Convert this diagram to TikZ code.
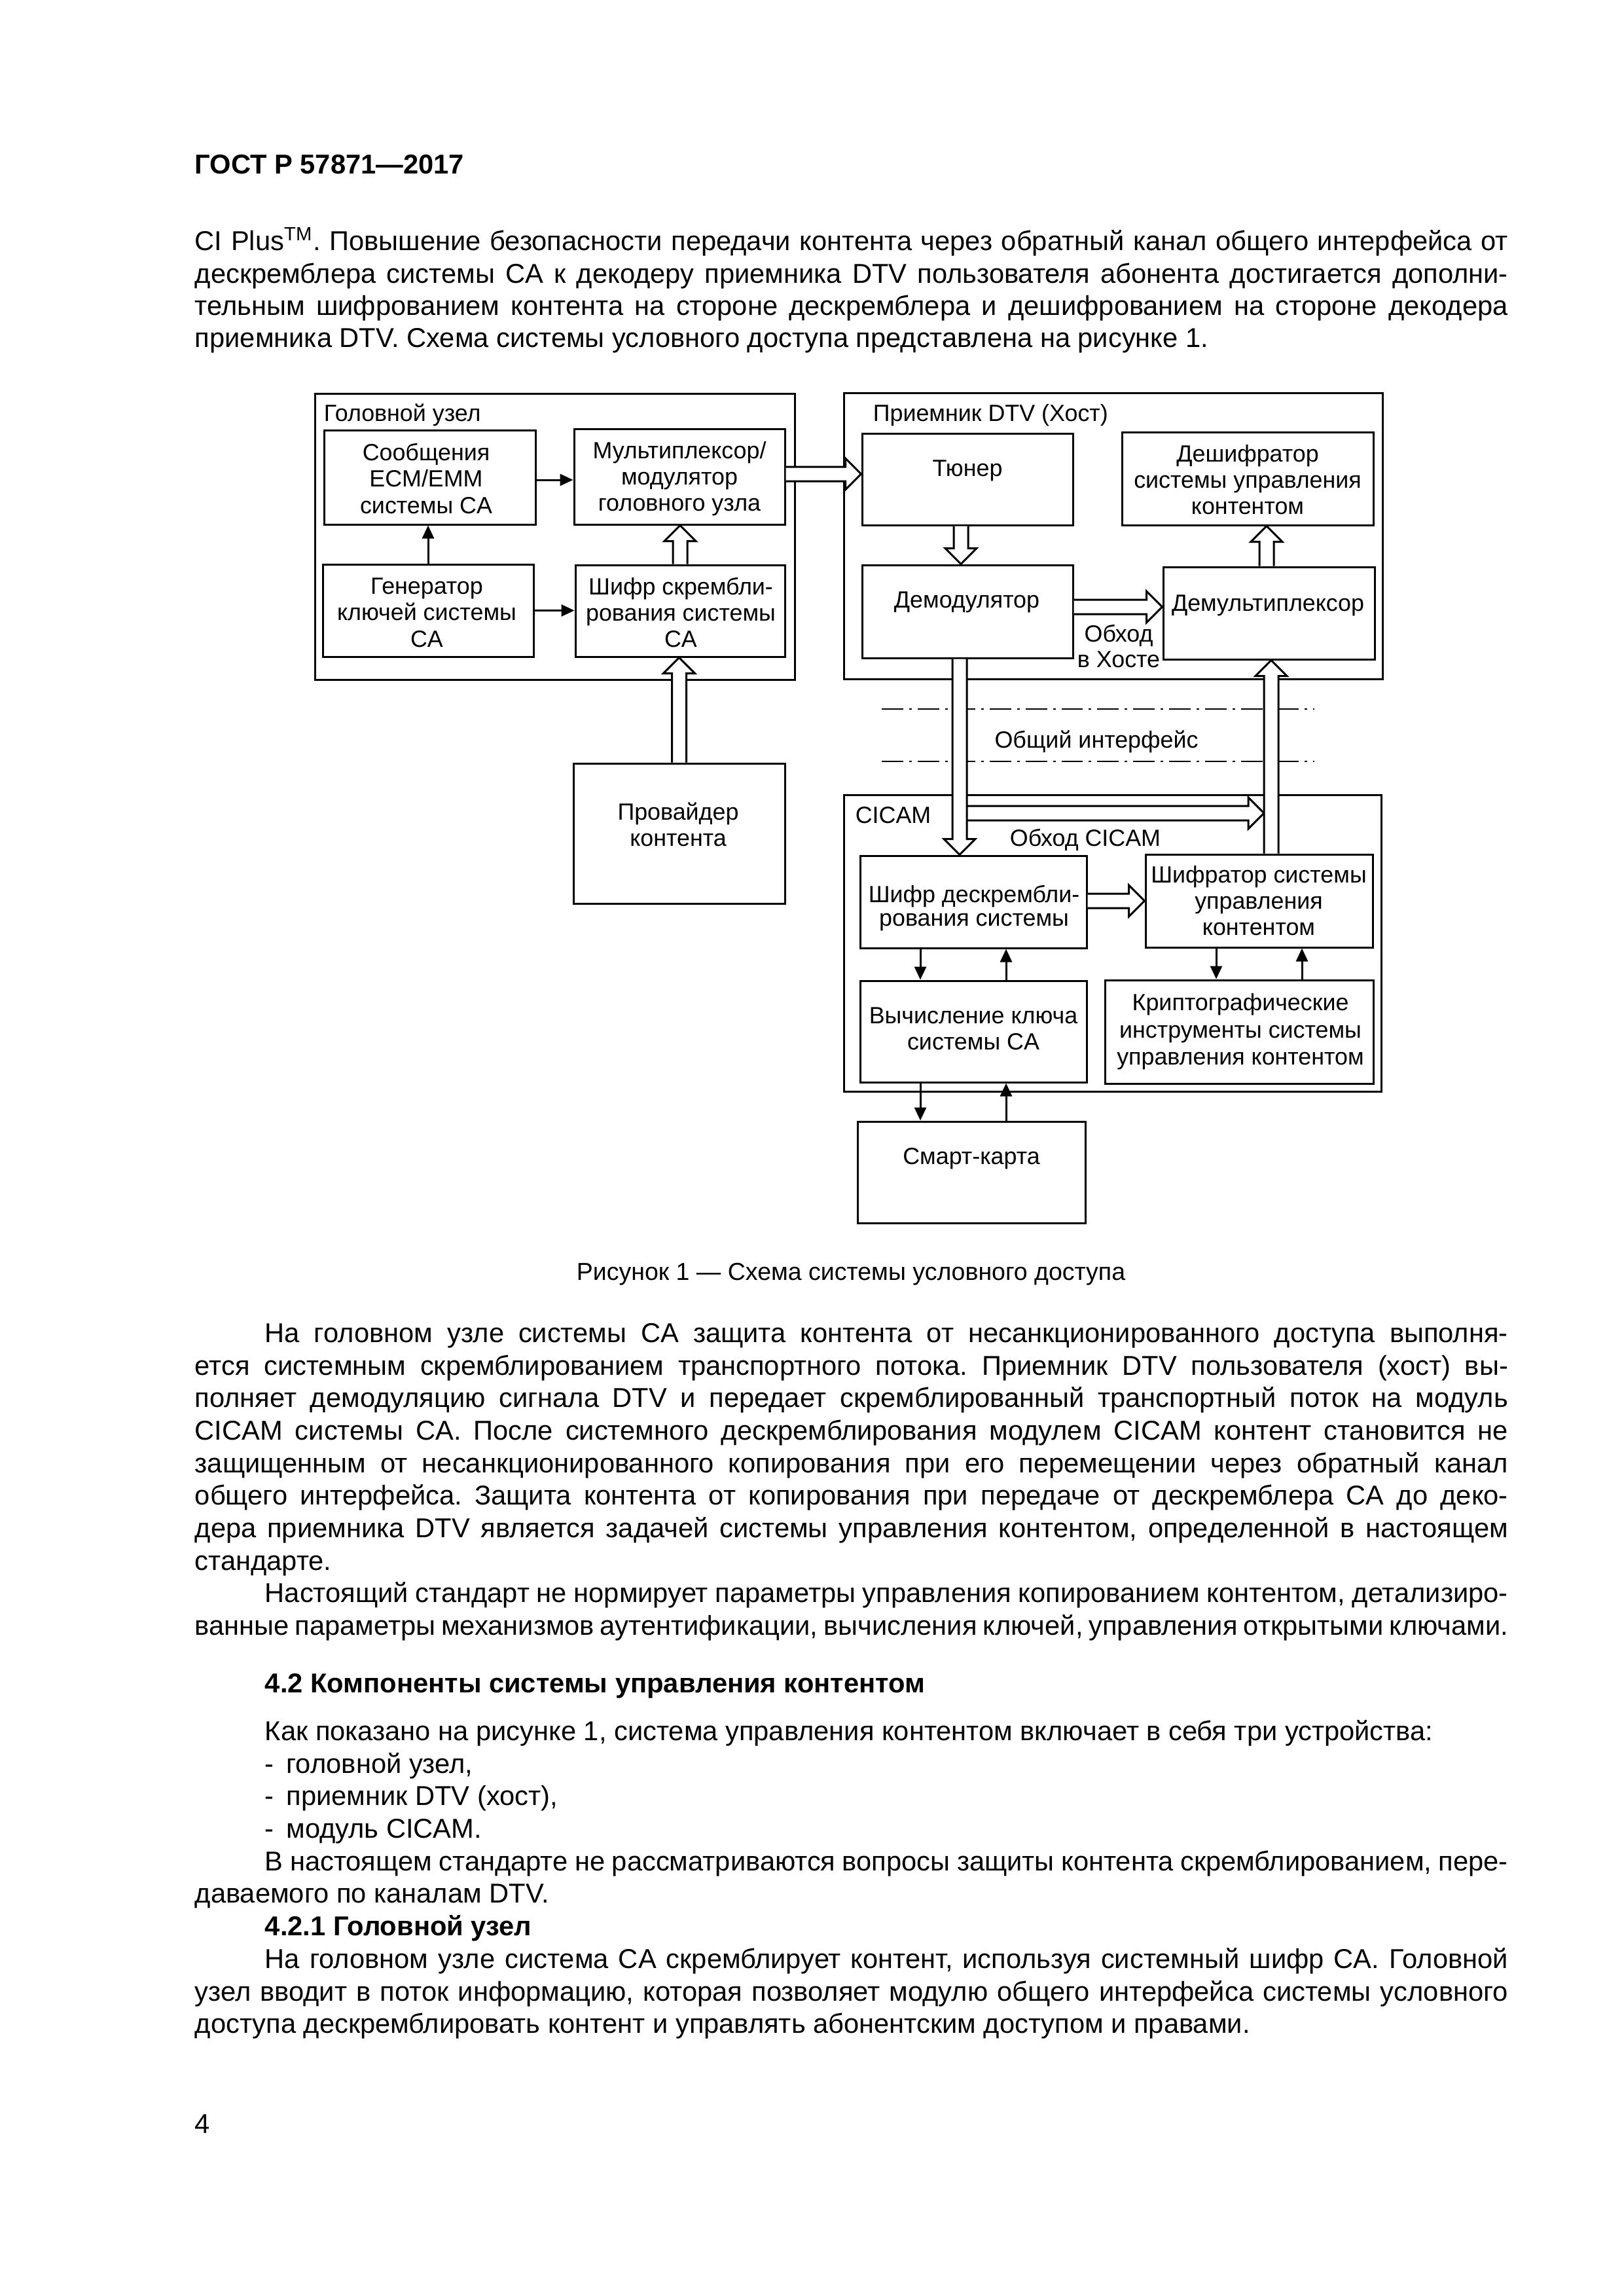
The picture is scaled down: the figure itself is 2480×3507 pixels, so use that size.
\documentclass[tikz,border=0pt]{standalone}
\usepackage{fontspec}
\setmainfont{Liberation Sans}
\usetikzlibrary{calc,arrows.meta,fit}
\frenchspacing
\newdimen\pxunit \pxunit=0.24003pt
\def\hsw{11}\def\hhw{24}\def\hl{24}
% vertical hollow arrow: #1 start, #2 tip, #3 = 1 (up) or -1 (down)
\newcommand\hvarrow[3]{\draw[harrow] ($(#1)+(-\hsw,0)$) -- ($(#2)+(-\hsw,#3*\hl)$) -- ($(#2)+(-\hhw,#3*\hl)$) -- (#2) -- ($(#2)+(\hhw,#3*\hl)$) -- ($(#2)+(\hsw,#3*\hl)$) -- ($(#1)+(\hsw,0)$);}
% horizontal hollow arrow to the right: #1 start, #2 tip
\newcommand\hharrow[2]{\draw[harrow] ($(#1)+(0,-\hsw)$) -- ($(#2)+(-\hl,-\hsw)$) -- ($(#2)+(-\hl,-\hhw)$) -- (#2) -- ($(#2)+(-\hl,\hhw)$) -- ($(#2)+(-\hl,\hsw)$) -- ($(#1)+(0,\hsw)$);}
\begin{document}
\frenchspacing
\begin{tikzpicture}[x=0.24003pt,y=-0.24003pt,
  box/.style={draw, line width=0.72pt, rectangle, inner sep=0pt},
  harrow/.style={draw, fill=white, line width=0.72pt, line join=miter},
  sarrow/.style={line width=0.72pt, -{Triangle[length=4.8pt,width=4.3pt]}},
  ddl/.style={line width=0.65pt, dash pattern=on 7.9pt off 2.16pt on 0.96pt off 2.16pt},
  dt/.style={font=\fontsize{8.6}{10}\selectfont, inner sep=0pt, anchor=base},
  dtl/.style={font=\fontsize{8.6}{10}\selectfont, inner sep=0pt, anchor=base west},
  bt/.style={font=\fontsize{10}{12}\selectfont, inner sep=0pt, anchor=base west}]
\useasboundingbox (0,0) rectangle (2480,3507);
\fill[white] (0,0) rectangle (2480,3507);

% ---------- page text ----------
\node[bt, font=\bfseries\fontsize{10}{12}\selectfont] (hdr) at (297,265) {ГОСТ Р 57871—2017};

\node[bt] (pa1) at (297,383) {\makebox[2006\pxunit][s]{CI Plus\textsuperscript{TM}. Повышение безопасности передачи контента через обратный канал общего интерфейса от}};
\node[bt] (pa2) at (297,432) {\makebox[2006\pxunit][s]{дескремблера системы CA к декодеру приемника DTV пользователя абонента достигается дополни-}};
\node[bt] (pa3) at (297,481) {\makebox[2006\pxunit][s]{тельным шифрованием контента на стороне дескремблера и дешифрованием на стороне декодера}};
\node[bt] (pa4) at (297,530) {приемника DTV. Схема системы условного доступа представлена на рисунке 1.};

\node[font=\fontsize{9}{11}\selectfont, inner sep=0pt, anchor=base] (cap) at (1300,1955) {Рисунок 1 — Схема системы условного доступа};

\node[bt] (pb1) at (404,2050) {\makebox[1899\pxunit][s]{На головном узле системы CA защита контента от несанкционированного доступа выполня-}};
\node[bt] (pb2) at (297,2100) {\makebox[2006\pxunit][s]{ется системным скремблированием транспортного потока. Приемник DTV пользователя (хост) вы-}};
\node[bt] (pb3) at (297,2149) {\makebox[2006\pxunit][s]{полняет демодуляцию сигнала DTV и передает скремблированный транспортный поток на модуль}};
\node[bt] (pb4) at (297,2199) {\makebox[2006\pxunit][s]{CICAM системы CA. После системного дескремблирования модулем CICAM контент становится не}};
\node[bt] (pb5) at (297,2249) {\makebox[2006\pxunit][s]{защищенным от несанкционированного копирования при его перемещении через обратный канал}};
\node[bt] (pb6) at (297,2298) {\makebox[2006\pxunit][s]{общего интерфейса. Защита контента от копирования при передаче от дескремблера CA до деко-}};
\node[bt] (pb7) at (297,2348) {\makebox[2006\pxunit][s]{дера приемника DTV является задачей системы управления контентом, определенной в настоящем}};
\node[bt] (pb8) at (297,2398) {стандарте.};

\node[bt] (pc1) at (404,2447) {\makebox[1899\pxunit][s]{Настоящий стандарт не нормирует параметры управления копированием контентом, детализиро-}};
\node[bt] (pc2) at (297,2497) {\makebox[2006\pxunit][s]{ванные параметры механизмов аутентификации, вычисления ключей, управления открытыми ключами.}};

\node[bt, font=\bfseries\fontsize{10}{12}\selectfont] (h42) at (404,2585) {4.2 Компоненты системы управления контентом};

\node[bt] (pd1) at (404,2658) {Как показано на рисунке 1, система управления контентом включает в себя три устройства:};
\node[bt] (pd2) at (404,2708) {-\hspace{4.5pt}головной узел,};
\node[bt] (pd3) at (404,2757) {-\hspace{4.5pt}приемник DTV (хост),};
\node[bt] (pd4) at (404,2807) {-\hspace{4.5pt}модуль CICAM.};
\node[bt] (pe1) at (404,2857) {\makebox[1899\pxunit][s]{В настоящем стандарте не рассматриваются вопросы защиты контента скремблированием, пере-}};
\node[bt] (pe2) at (297,2906) {даваемого по каналам DTV.};

\node[bt, font=\bfseries\fontsize{10}{12}\selectfont] (h421) at (404,2956) {4.2.1 Головной узел};

\node[bt] (pf1) at (404,3006) {\makebox[1899\pxunit][s]{На головном узле система CA скремблирует контент, используя системный шифр CA. Головной}};
\node[bt] (pf2) at (297,3056) {\makebox[2006\pxunit][s]{узел вводит в поток информацию, которая позволяет модулю общего интерфейса системы условного}};
\node[bt] (pf3) at (297,3105) {доступа дескремблировать контент и управлять абонентским доступом и правами.};

\node[bt] (pgn) at (297,3258) {4};

% ---------- diagram: containers ----------
\node[box, fit={(481,601)(1214,1038)}] (he) {};
\node[box, fit={(1289,600)(2112,1037)}] (host) {};
\node[box, fit={(1289,1214)(2110,1667)}] (cicam) {};

% common interface dash-dot lines
\coordinate (ci1a) at (1347,1083); \coordinate (ci1b) at (2008,1083);
\coordinate (ci2a) at (1347,1163); \coordinate (ci2b) at (2008,1163);
\draw[ddl] (ci1a) -- (ci1b);
\draw[ddl] (ci2a) -- (ci2b);

% ---------- diagram: blocks ----------
\node[box, fit={(495,657)(818,801)}] (sms) {};
\node[box, fit={(877,655)(1199,801)}] (mux) {};
\node[box, fit={(493,862)(815,1003)}] (gen) {};
\node[box, fit={(879,863)(1199,1003)}] (scr) {};
\node[box, fit={(876,1166)(1199,1380)}] (prov) {};
\node[box, fit={(1317,662)(1639,802)}] (tun) {};
\node[box, fit={(1714,660)(2098,802)}] (dec) {};
\node[box, fit={(1317,863)(1639,1005)}] (dem) {};
\node[box, fit={(1777,866)(2100,1007)}] (dmx) {};
\node[box, fit={(1314,1307)(1660,1448)}] (desc) {};
\node[box, fit={(1750,1305)(2097,1447)}] (enc) {};
\node[box, fit={(1314,1498)(1660,1653)}] (calc) {};
\node[box, fit={(1688,1497)(2098,1655)}] (cry) {};
\node[box, fit={(1310,1713)(1658,1868)}] (smart) {};

% ---------- labels ----------
\node[dtl] (lhe) at (494,643) {Головной узел};
\node[dtl] (lhost) at (1333,643) {Приемник DTV (Хост)};
\node[dtl] (lcicam) at (1306,1257) {CICAM};
\node[dt] (lci) at (1675,1142) {Общий интерфейс};
\node[dt] (lbc) at (1658,1292) {Обход CICAM};
\node[dt] (lbh1) at (1709,980) {Обход};
\node[dt] (lbh2) at (1709,1019) {в Хосте};

\node[dt] (tsms1) at (651,703) {Сообщения};
\node[dt] (tsms2) at (651,743) {ECM/EMM};
\node[dt] (tsms3) at (651,784) {системы CA};
\node[dt] (tmux1) at (1038,700) {Мультиплексор/};
\node[dt] (tmux2) at (1038,740) {модулятор};
\node[dt] (tmux3) at (1038,780) {головного узла};
\node[dt] (tgen1) at (652,907) {Генератор};
\node[dt] (tgen2) at (652,947) {ключей системы};
\node[dt] (tgen3) at (652,988) {CA};
\node[dt] (tscr1) at (1040,908) {Шифр скрембли-};
\node[dt] (tscr2) at (1040,948) {рования системы};
\node[dt] (tscr3) at (1040,988) {CA};
\node[dt] (tprov1) at (1036,1252) {Провайдер};
\node[dt] (tprov2) at (1036,1292) {контента};
\node[dt] (ttun) at (1478,727) {Тюнер};
\node[dt] (tdec1) at (1906,705) {Дешифратор};
\node[dt] (tdec2) at (1906,745) {системы управления};
\node[dt] (tdec3) at (1906,785) {контентом};
\node[dt] (tdem) at (1477,928) {Демодулятор};
\node[dt] (tdmx) at (1937,933) {Демультиплексор};
\node[dt] (tdesc1) at (1488,1378) {Шифр дескрембли-};
\node[dt] (tdesc2) at (1488,1414) {рования системы};
\node[dt] (tenc1) at (1923,1348) {Шифратор системы};
\node[dt] (tenc2) at (1923,1388) {управления};
\node[dt] (tenc3) at (1923,1428) {контентом};
\node[dt] (tcalc1) at (1487,1563) {Вычисление ключа};
\node[dt] (tcalc2) at (1487,1603) {системы CA};
\node[dt] (tcry1) at (1895,1543) {Криптографические};
\node[dt] (tcry2) at (1895,1585) {инструменты системы};
\node[dt] (tcry3) at (1895,1626) {управления контентом};
\node[dt] (tsmart) at (1484,1778) {Смарт-карта};

% ---------- solid arrows ----------
\coordinate (ya) at (0,733);
\draw[sarrow] (sms.east |- ya) -- (mux.west |- ya);
\draw[sarrow] (gen.east) -- (gen.east -| scr.west);
\draw[sarrow] (gen.north) -- (gen.north |- sms.south);
\coordinate (xd) at (1406,0); \coordinate (xu) at (1537,0);
\draw[sarrow] (desc.south -| xd) -- (calc.north -| xd);
\draw[sarrow] (calc.north -| xu) -- (desc.south -| xu);
\draw[sarrow] (calc.south -| xd) -- (smart.north -| xd);
\draw[sarrow] (smart.north -| xu) -- (calc.south -| xu);
\coordinate (xd2) at (1858,0); \coordinate (xu2) at (1989,0);
\draw[sarrow] (enc.south -| xd2) -- (cry.north -| xd2);
\draw[sarrow] (cry.north -| xu2) -- (enc.south -| xu2);

% ---------- hollow arrows ----------
\coordinate (s1) at (scr.north); \coordinate (e1) at (scr.north |- mux.south);
\hvarrow{s1}{e1}{1}
\coordinate (s2) at (prov.north); \coordinate (e2) at (prov.north |- scr.south);
\hvarrow{s2}{e2}{1}
\coordinate (s3) at (mux.east |- 0,724); \coordinate (e3) at (tun.west |- 0,724);
\hharrow{s3}{e3}
\coordinate (s4) at (tun.south -| 1468,0); \coordinate (e4) at (dem.north -| 1468,0);
\hvarrow{s4}{e4}{-1}
\coordinate (s5) at (dem.east |- 0,927); \coordinate (e5) at (dmx.west |- 0,927);
\hharrow{s5}{e5}
\coordinate (s6) at (dmx.north -| 1935,0); \coordinate (e6) at (dec.south -| 1935,0);
\hvarrow{s6}{e6}{1}
\coordinate (s8) at (1477,1242); \coordinate (e8) at (1931,1242);
\hharrow{s8}{e8}
\coordinate (s7) at (dem.south -| 1466,0); \coordinate (e7) at (desc.north -| 1466,0);
\hvarrow{s7}{e7}{-1}
\coordinate (s9) at (enc.north -| 1942,0); \coordinate (e9) at (dmx.south -| 1942,0);
\hvarrow{s9}{e9}{1}
\coordinate (s10) at (desc.east |- 0,1376); \coordinate (e10) at (enc.west |- 0,1376);
\hharrow{s10}{e10}
\end{tikzpicture}
\end{document}
